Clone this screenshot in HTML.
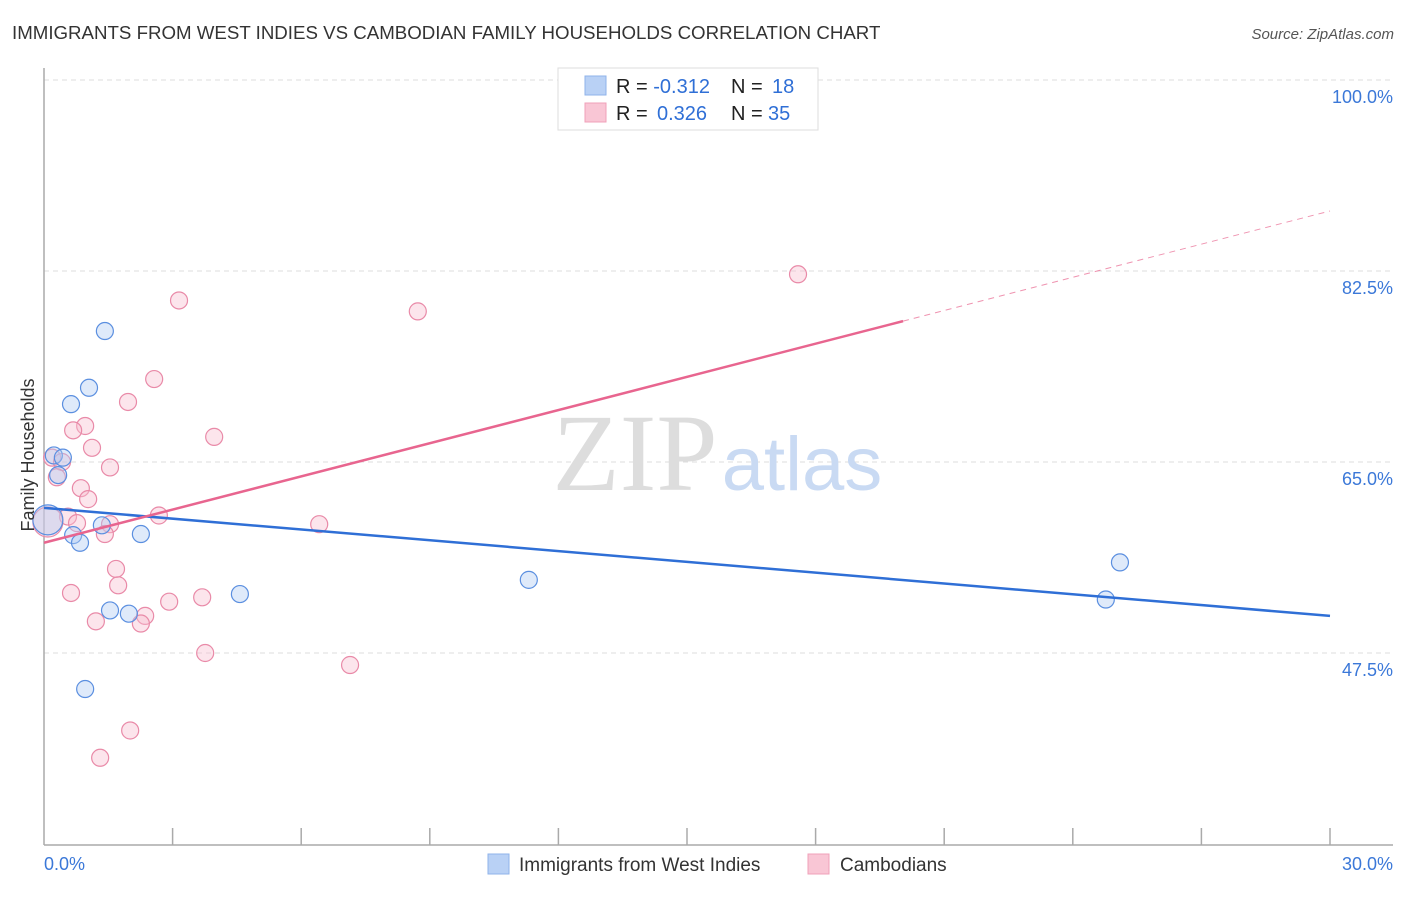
<!DOCTYPE html>
<html><head><meta charset="utf-8"><style>
body{margin:0;background:#fff;font-family:"Liberation Sans",sans-serif;}
svg text{font-family:"Liberation Sans",sans-serif;}
</style></head><body>
<svg id="chart" width="1406" height="892" xmlns="http://www.w3.org/2000/svg">
<text x="12" y="39" font-size="18.7" fill="#333">IMMIGRANTS FROM WEST INDIES VS CAMBODIAN FAMILY HOUSEHOLDS CORRELATION CHART</text>
<text x="1394" y="39" font-size="15" fill="#555" text-anchor="end" font-style="italic">Source: ZipAtlas.com</text>
<g id="grid"></g>
<g id="axes"></g>
<text x="635" y="490" font-size="110" fill="#ddd" text-anchor="middle" style="font-family:'Liberation Serif',serif">ZIP</text>
<text x="802" y="490" font-size="76" fill="#c9daf3" text-anchor="middle">atlas</text>
<g id="marks"></g>
<text transform="translate(34,455) rotate(-90)" font-size="18" fill="#333" text-anchor="middle">Family Households</text>
<g>
<rect x="558" y="68" width="260" height="62" fill="#fff" stroke="#ddd"/>
<rect x="585" y="76" width="21" height="19" fill="#b9d1f5" stroke="#8fb3ea"/>
<rect x="585" y="103" width="21" height="19" fill="#f9c6d5" stroke="#f0a0b9"/>
<text x="616" y="93" font-size="20" fill="#222">R = <tspan fill="#2f6fd6">-0.312</tspan><tspan x="731">N = </tspan><tspan fill="#2f6fd6" x="772">18</tspan></text>
<text x="616" y="120" font-size="20" fill="#222">R = <tspan fill="#2f6fd6" x="657">0.326</tspan><tspan x="731">N = </tspan><tspan fill="#2f6fd6" x="768">35</tspan></text>
</g>
<g>
<rect x="488" y="854" width="21" height="20" fill="#b9d1f5" stroke="#8fb3ea"/>
<text x="519" y="871" font-size="19" fill="#333">Immigrants from West Indies</text>
<rect x="808" y="854" width="21" height="20" fill="#f9c6d5" stroke="#f0a0b9"/>
<text x="840" y="871" font-size="19" fill="#333">Cambodians</text>
</g>
</svg>
<script>
const blueX=[1.42,1.05,0.63,0.23,0.44,0.33,0.09,1.35,2.26,0.68,0.84,1.54,1.98,4.57,0.96,11.31,25.10,24.77];
const blueY=[77.0,71.8,70.3,65.6,65.4,63.8,59.7,59.2,58.4,58.3,57.6,51.4,51.1,52.9,44.2,54.2,55.8,52.4];
const pinkX=[3.15,8.72,17.59,2.57,1.96,0.96,0.68,1.12,3.97,1.54,0.19,0.42,0.30,0.86,1.03,0.56,0.77,1.54,2.68,6.42,1.42,0.09,1.68,1.73,0.63,2.92,3.69,2.36,2.26,1.21,3.76,7.14,2.01,1.31];
const pinkY=[79.8,78.8,82.2,72.6,70.5,68.3,67.9,66.3,67.3,64.5,65.4,65.0,63.6,62.6,61.6,60.0,59.4,59.3,60.1,59.3,58.4,59.5,55.2,53.7,53.0,52.2,52.6,50.9,50.2,50.4,47.5,46.4,40.4,37.9];
const blueTrend=[60.8,50.9];
const pinkTrend=[57.6,88.0];
const pinkSolidEnd=20.04;
const yTicks=[100,82.5,65,47.5];
const yTickLabels=["100.0%","82.5%","65.0%","47.5%"];
const xTicks=[3,6,9,12,15,18,21,24,27,30];
const NS="http://www.w3.org/2000/svg";
const X=v=>44+v/30*1286;
const Y=v=>80+(100-v)/17.5*191;
function mk(tag,attrs,parent){const e=document.createElementNS(NS,tag);for(const k in attrs)e.setAttribute(k,attrs[k]);parent.appendChild(e);return e;}
const grid=document.getElementById('grid'),axes=document.getElementById('axes'),marks=document.getElementById('marks');
yTicks.forEach((t,i)=>{
 const l=mk('line',{x1:44,x2:1393,y1:Y(t),y2:Y(t),stroke:'#ddd','stroke-dasharray':'5,4'},grid);
 
 
 const tx=mk('text',{x:1393,y:Y(t)+23,'font-size':18,fill:'#3b78d8','text-anchor':'end'},axes);
 tx.textContent=yTickLabels[i];
 
 
});
const ya=mk('line',{x1:44,x2:44,y1:68,y2:845,stroke:'#aaa','stroke-width':1.5},axes);


const xa=mk('line',{x1:44,x2:1393,y1:845,y2:845,stroke:'#aaa','stroke-width':1.5},axes);


xTicks.forEach(t=>{
 const l=mk('line',{x1:X(t),x2:X(t),y1:828,y2:845,stroke:'#aaa','stroke-width':1.5},axes);
 
 
});
[[0,'0.0%','start',44],[30,'30.0%','end',1393]].forEach(a=>{
 const tx=mk('text',{x:a[3],y:870,'font-size':18,fill:'#3b78d8','text-anchor':a[2]},axes);
 tx.textContent=a[1];
 
 
});
function dot(x,y,r,fill,stroke,name){
 const c=mk('circle',{cx:X(x),cy:Y(y),r:r,fill:fill,'fill-opacity':0.4,stroke:stroke,'stroke-width':1.2},marks);
 
 
}
pinkX.forEach((x,i)=>dot(x,pinkY[i],i===21?15:8.5,'#f7bfd0','#e98aa8','cambodians-point'));
blueX.forEach((x,i)=>dot(x,blueY[i],i===6?15:8.5,'#b0cbf3','#5b8fe0','west-indies-point'));
const bl=mk('line',{x1:X(0),y1:Y(blueTrend[0]),x2:X(30),y2:Y(blueTrend[1]),stroke:'#2f6fd6','stroke-width':2.5},marks);


const pAt=v=>pinkTrend[0]+(pinkTrend[1]-pinkTrend[0])*v/30;
const pl=mk('line',{x1:X(0),y1:Y(pAt(0)),x2:X(pinkSolidEnd),y2:Y(pAt(pinkSolidEnd)),stroke:'#e8658f','stroke-width':2.5},marks);


const pd=mk('line',{x1:X(pinkSolidEnd),y1:Y(pAt(pinkSolidEnd)),x2:X(30),y2:Y(pAt(30)),stroke:'#e8658f','stroke-width':1,'stroke-dasharray':'6,5','stroke-opacity':0.7},marks);


</script>
</body></html>
